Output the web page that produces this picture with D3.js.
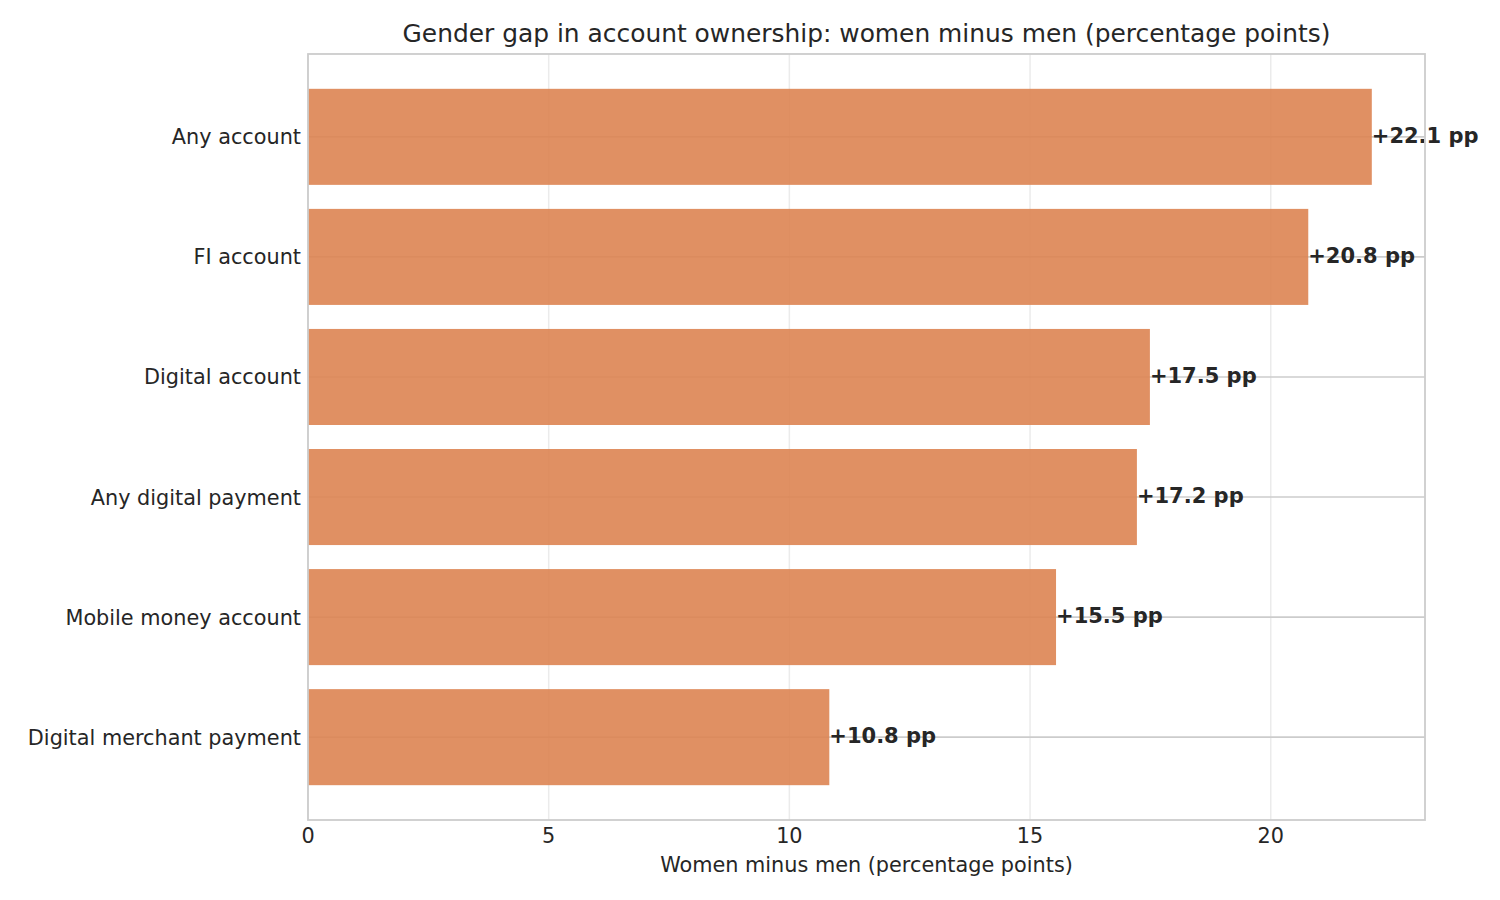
<!DOCTYPE html>
<html>
<head>
<meta charset="utf-8">
<script src="https://cdn.jsdelivr.net/npm/d3@7"></script>
<style>
  body { margin: 0; background: #fff; }
  text { font-family: "DejaVu Sans", sans-serif; fill: #262626; }
</style>
</head>
<body>
<svg id="chart" width="1500" height="900"></svg>
<script>
// data
const categories = ["Any account", "FI account", "Digital account", "Any digital payment", "Mobile money account", "Digital merchant payment"];
const gaps = [22.1, 20.78, 17.49, 17.22, 15.54, 10.83];
const xTicks = [0, 5, 10, 15, 20];

const title = "Gender gap in account ownership: women minus men (percentage points)";
const xLabel = "Women minus men (percentage points)";

const rows = categories.map((c, i) => ({ name: c, value: gaps[i], idx: i }));

const plotLeft = 308, plotRight = 1425, plotTop = 54, plotBottom = 820;
const svg = d3.select("#chart");

const x = d3.scaleLinear()
    .domain([0, d3.max(gaps) * 1.05])
    .range([plotLeft, plotRight]);

// matplotlib style: bar centers at 0..n-1, height 0.8, 5% margin
const n = categories.length;
const span = (n - 1) + 0.8;
const y = d3.scaleLinear()
    .domain([-0.4 - 0.05 * span, n - 1 + 0.4 + 0.05 * span])
    .range([plotTop, plotBottom]);

// vertical grid
svg.append("g")
    .selectAll("line")
    .data(xTicks)
    .enter()
    .append("line")
    .attr("x1", d => x(d))
    .attr("x2", d => x(d))
    .attr("y1", plotTop)
    .attr("y2", plotBottom)
    .style("stroke", "#ebebeb")
    .style("stroke-width", 1.5);

// horizontal grid at bar centers
svg.append("g")
    .selectAll("line")
    .data(rows)
    .enter()
    .append("line")
    .attr("x1", plotLeft)
    .attr("x2", plotRight)
    .attr("y1", d => y(d.idx))
    .attr("y2", d => y(d.idx))
    .style("stroke", "#cccccc")
    .style("stroke-width", 1.6);

// bars
svg.append("g")
    .selectAll("rect")
    .data(rows)
    .enter()
    .append("rect")
    .attr("x", x(0))
    .attr("y", d => y(d.idx - 0.4))
    .attr("width", d => x(d.value) - x(0))
    .attr("height", d => y(d.idx + 0.4) - y(d.idx - 0.4))
    .style("fill", "#dd8452")
    .style("fill-opacity", 0.9);

// value labels
svg.append("g")
    .selectAll("text")
    .data(rows)
    .enter()
    .append("text")
    .attr("x", d => x(d.value))
    .attr("y", d => y(d.idx))
    .attr("dy", "0.3em")
    .style("font-size", "21px")
    .style("font-weight", "bold")
    .text(d => "+" + d.value.toFixed(1) + " pp");

// frame
svg.append("rect")
    .attr("x", plotLeft)
    .attr("y", plotTop)
    .attr("width", plotRight - plotLeft)
    .attr("height", plotBottom - plotTop)
    .style("fill", "none")
    .style("stroke", "#cccccc")
    .style("stroke-width", 1.8);

// y tick labels
svg.append("g")
    .selectAll("text")
    .data(rows)
    .enter()
    .append("text")
    .attr("x", plotLeft - 7)
    .attr("y", d => y(d.idx))
    .attr("dy", "0.36em")
    .attr("text-anchor", "end")
    .style("font-size", "20.8px")
    .text(d => d.name);

// x tick labels
svg.append("g")
    .selectAll("text")
    .data(xTicks)
    .enter()
    .append("text")
    .attr("x", d => x(d))
    .attr("y", plotBottom + 23)
    .attr("text-anchor", "middle")
    .style("font-size", "20.8px")
    .text(d => d);

svg.append("text")
    .attr("x", (plotLeft + plotRight) / 2)
    .attr("y", 872)
    .attr("text-anchor", "middle")
    .style("font-size", "20.8px")
    .text(xLabel);

svg.append("text")
    .attr("x", (plotLeft + plotRight) / 2)
    .attr("y", 42)
    .attr("text-anchor", "middle")
    .style("font-size", "24.9px")
    .text(title);
</script>
</body>
</html>
